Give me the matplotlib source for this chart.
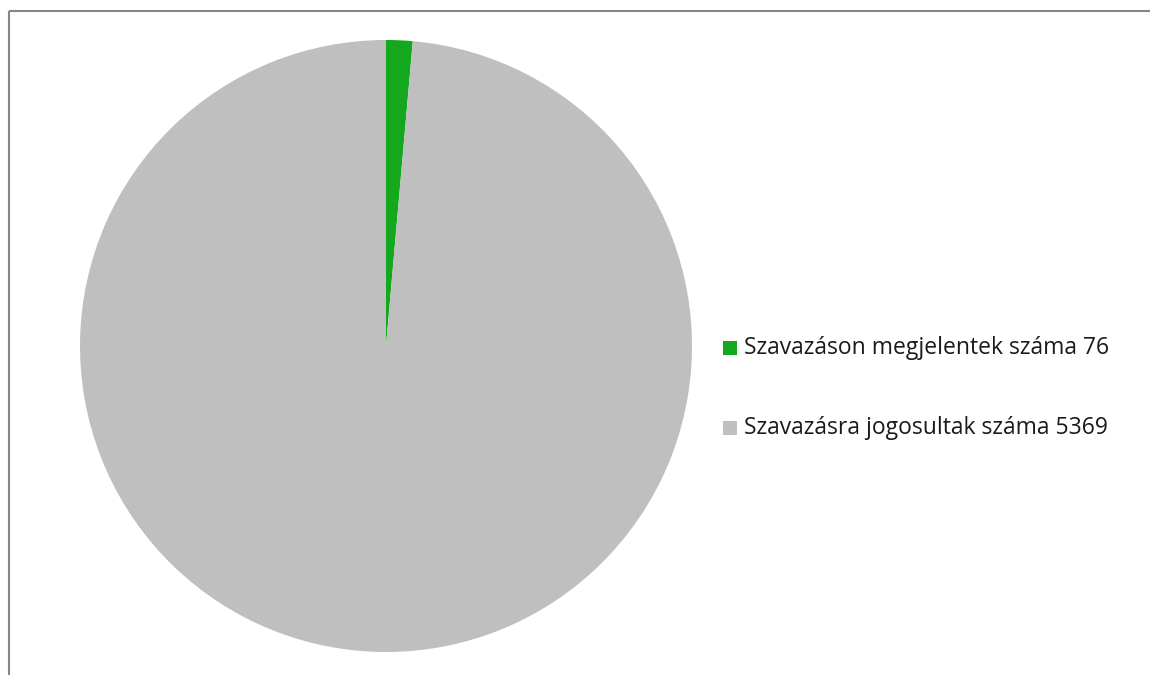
import matplotlib.pyplot as plt
from matplotlib.patches import Rectangle
from matplotlib.lines import Line2D

labels = ['Szavazáson megjelentek száma 76', 'Szavazásra jogosultak száma 5369']
values = [76, 5369]
colors = ['#13A81E', '#BFBFBF']

W, H = 1150, 675
fig = plt.figure(figsize=(W / 100, H / 100), dpi=100)
fig.patch.set_facecolor('white')

# pie axes: center (386, 346) px, radius ~306 px
cx, cy, r = 386, 346, 306
ax = fig.add_axes([(cx - r) / W, (H - cy - r) / H, 2 * r / W, 2 * r / H])
ax.pie(values, colors=colors, startangle=90, counterclock=False,
       wedgeprops=dict(linewidth=0))
ax.set_xlim(-1, 1)
ax.set_ylim(-1, 1)
ax.set_aspect('equal')
ax.axis('off')

# outer border (left + top)
fig.add_artist(Line2D([8.5 / W, 8.5 / W], [0, 1 - 10.5 / H], color='#868686', lw=1.5,
                      transform=fig.transFigure, solid_capstyle='butt'))
fig.add_artist(Line2D([8.5 / W, 1], [1 - 10.5 / H, 1 - 10.5 / H], color='#868686', lw=1.5,
                      transform=fig.transFigure, solid_capstyle='butt'))

# legend
rows_y = [348, 428]
for lab, col, y in zip(labels, colors, rows_y):
    fig.add_artist(Rectangle((723 / W, (H - y - 7) / H), 14 / W, 14 / H,
                             facecolor=col, edgecolor='none', transform=fig.transFigure))
    fig.text(744 / W, (H - y) / H, lab, fontsize=16.5, family='Open Sans',
             color='#1a1a1a', va='center', ha='left')

fig.savefig('out.png', dpi=100)
